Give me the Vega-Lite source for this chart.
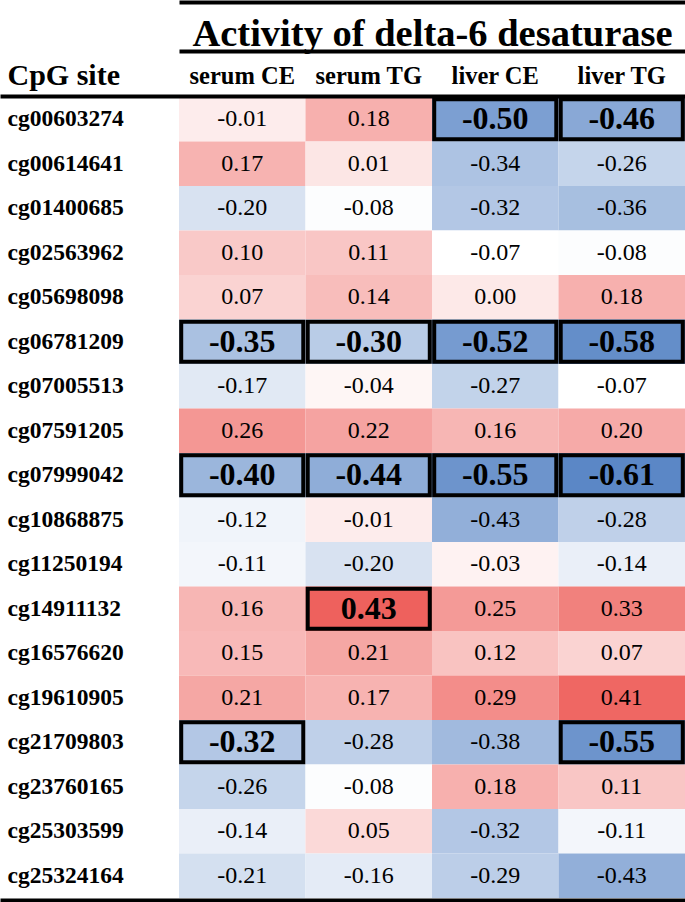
{
  "$schema": "https://vega.github.io/schema/vega-lite/v6.json",
  "width": 685,
  "height": 801,
  "autosize": "none",
  "padding": {"left": 0, "right": 0, "top": 97, "bottom": 4},
  "background": "white",
  "config": {
    "view": {"stroke": null},
    "font": "Liberation Serif",
    "locale": {"number": {"decimal": ".", "thousands": ",", "grouping": [3], "currency": ["$", ""], "minus": "-"}}
  },
  "datasets": {
    "cells": [
      {"site": "cg00603274", "m": "serum CE", "r": -0.01, "sig": false},
      {"site": "cg00603274", "m": "serum TG", "r": 0.18, "sig": false},
      {"site": "cg00603274", "m": "liver CE", "r": -0.50, "sig": true},
      {"site": "cg00603274", "m": "liver TG", "r": -0.46, "sig": true},
      {"site": "cg00614641", "m": "serum CE", "r": 0.17, "sig": false},
      {"site": "cg00614641", "m": "serum TG", "r": 0.01, "sig": false},
      {"site": "cg00614641", "m": "liver CE", "r": -0.34, "sig": false},
      {"site": "cg00614641", "m": "liver TG", "r": -0.26, "sig": false},
      {"site": "cg01400685", "m": "serum CE", "r": -0.20, "sig": false},
      {"site": "cg01400685", "m": "serum TG", "r": -0.08, "sig": false},
      {"site": "cg01400685", "m": "liver CE", "r": -0.32, "sig": false},
      {"site": "cg01400685", "m": "liver TG", "r": -0.36, "sig": false},
      {"site": "cg02563962", "m": "serum CE", "r": 0.10, "sig": false},
      {"site": "cg02563962", "m": "serum TG", "r": 0.11, "sig": false},
      {"site": "cg02563962", "m": "liver CE", "r": -0.07, "sig": false},
      {"site": "cg02563962", "m": "liver TG", "r": -0.08, "sig": false},
      {"site": "cg05698098", "m": "serum CE", "r": 0.07, "sig": false},
      {"site": "cg05698098", "m": "serum TG", "r": 0.14, "sig": false},
      {"site": "cg05698098", "m": "liver CE", "r": 0.00, "sig": false},
      {"site": "cg05698098", "m": "liver TG", "r": 0.18, "sig": false},
      {"site": "cg06781209", "m": "serum CE", "r": -0.35, "sig": true},
      {"site": "cg06781209", "m": "serum TG", "r": -0.30, "sig": true},
      {"site": "cg06781209", "m": "liver CE", "r": -0.52, "sig": true},
      {"site": "cg06781209", "m": "liver TG", "r": -0.58, "sig": true},
      {"site": "cg07005513", "m": "serum CE", "r": -0.17, "sig": false},
      {"site": "cg07005513", "m": "serum TG", "r": -0.04, "sig": false},
      {"site": "cg07005513", "m": "liver CE", "r": -0.27, "sig": false},
      {"site": "cg07005513", "m": "liver TG", "r": -0.07, "sig": false},
      {"site": "cg07591205", "m": "serum CE", "r": 0.26, "sig": false},
      {"site": "cg07591205", "m": "serum TG", "r": 0.22, "sig": false},
      {"site": "cg07591205", "m": "liver CE", "r": 0.16, "sig": false},
      {"site": "cg07591205", "m": "liver TG", "r": 0.20, "sig": false},
      {"site": "cg07999042", "m": "serum CE", "r": -0.40, "sig": true},
      {"site": "cg07999042", "m": "serum TG", "r": -0.44, "sig": true},
      {"site": "cg07999042", "m": "liver CE", "r": -0.55, "sig": true},
      {"site": "cg07999042", "m": "liver TG", "r": -0.61, "sig": true},
      {"site": "cg10868875", "m": "serum CE", "r": -0.12, "sig": false},
      {"site": "cg10868875", "m": "serum TG", "r": -0.01, "sig": false},
      {"site": "cg10868875", "m": "liver CE", "r": -0.43, "sig": false},
      {"site": "cg10868875", "m": "liver TG", "r": -0.28, "sig": false},
      {"site": "cg11250194", "m": "serum CE", "r": -0.11, "sig": false},
      {"site": "cg11250194", "m": "serum TG", "r": -0.20, "sig": false},
      {"site": "cg11250194", "m": "liver CE", "r": -0.03, "sig": false},
      {"site": "cg11250194", "m": "liver TG", "r": -0.14, "sig": false},
      {"site": "cg14911132", "m": "serum CE", "r": 0.16, "sig": false},
      {"site": "cg14911132", "m": "serum TG", "r": 0.43, "sig": true},
      {"site": "cg14911132", "m": "liver CE", "r": 0.25, "sig": false},
      {"site": "cg14911132", "m": "liver TG", "r": 0.33, "sig": false},
      {"site": "cg16576620", "m": "serum CE", "r": 0.15, "sig": false},
      {"site": "cg16576620", "m": "serum TG", "r": 0.21, "sig": false},
      {"site": "cg16576620", "m": "liver CE", "r": 0.12, "sig": false},
      {"site": "cg16576620", "m": "liver TG", "r": 0.07, "sig": false},
      {"site": "cg19610905", "m": "serum CE", "r": 0.21, "sig": false},
      {"site": "cg19610905", "m": "serum TG", "r": 0.17, "sig": false},
      {"site": "cg19610905", "m": "liver CE", "r": 0.29, "sig": false},
      {"site": "cg19610905", "m": "liver TG", "r": 0.41, "sig": false},
      {"site": "cg21709803", "m": "serum CE", "r": -0.32, "sig": true},
      {"site": "cg21709803", "m": "serum TG", "r": -0.28, "sig": false},
      {"site": "cg21709803", "m": "liver CE", "r": -0.38, "sig": false},
      {"site": "cg21709803", "m": "liver TG", "r": -0.55, "sig": true},
      {"site": "cg23760165", "m": "serum CE", "r": -0.26, "sig": false},
      {"site": "cg23760165", "m": "serum TG", "r": -0.08, "sig": false},
      {"site": "cg23760165", "m": "liver CE", "r": 0.18, "sig": false},
      {"site": "cg23760165", "m": "liver TG", "r": 0.11, "sig": false},
      {"site": "cg25303599", "m": "serum CE", "r": -0.14, "sig": false},
      {"site": "cg25303599", "m": "serum TG", "r": 0.05, "sig": false},
      {"site": "cg25303599", "m": "liver CE", "r": -0.32, "sig": false},
      {"site": "cg25303599", "m": "liver TG", "r": -0.11, "sig": false},
      {"site": "cg25324164", "m": "serum CE", "r": -0.21, "sig": false},
      {"site": "cg25324164", "m": "serum TG", "r": -0.16, "sig": false},
      {"site": "cg25324164", "m": "liver CE", "r": -0.29, "sig": false},
      {"site": "cg25324164", "m": "liver TG", "r": -0.43, "sig": false}
    ]
  },
  "data": {"name": "cells"},
  "encoding": {
    "y": {
      "field": "site", "type": "nominal", "sort": null,
      "scale": {"paddingInner": 0, "paddingOuter": 0},
      "axis": {
        "orient": "left", "offset": -7, "domain": false, "ticks": false, "tickSize": 0,
        "labelAlign": "left", "labelPadding": 0, "labelFont": "Liberation Serif",
        "labelFontWeight": "bold", "labelFontSize": 23.5, "labelColor": "black",
        "title": "CpG site", "titleAngle": 0, "titleAlign": "left", "titleBaseline": "alphabetic",
        "titleX": 0, "titleY": -13, "titleFont": "Liberation Serif", "titleFontSize": 30,
        "titleFontWeight": "bold", "titleColor": "black"
      }
    }
  },
  "resolve": {"axis": {"x": "independent"}},
  "layer": [
    {
      "mark": {"type": "rect"},
      "encoding": {
        "x": {
          "field": "m", "type": "nominal", "sort": ["serum CE", "serum TG", "liver CE", "liver TG"],
          "scale": {"paddingInner": 0, "paddingOuter": 0.7075, "align": 1},
          "axis": {
            "orient": "top", "offset": 1, "domainWidth": 4, "domainColor": "black",
            "ticks": false, "tickSize": 0, "labelAngle": 0, "labelBaseline": "alphabetic",
            "labelPadding": 13, "labelFont": "Liberation Serif", "labelFontWeight": "bold",
            "labelFontSize": 24.5, "labelColor": "black", "title": null
          }
        },
        "color": {
          "field": "r", "type": "quantitative",
          "scale": {"domain": [-0.61, -0.07, 0.43], "range": ["#5b87c6", "#ffffff", "#ee615d"], "interpolate": "rgb"},
          "legend": null
        }
      }
    },
    {
      "transform": [{"filter": "datum.sig"}],
      "mark": {"type": "rect", "fill": null, "fillOpacity": 0, "stroke": "black", "strokeWidth": 4,
               "width": {"band": 0.965}, "height": {"band": 0.9}},
      "encoding": {
        "x": {
          "field": "m", "type": "nominal", "sort": ["serum CE", "serum TG", "liver CE", "liver TG"],
          "scale": {"paddingInner": 0, "paddingOuter": 0.7075, "align": 1},
          "axis": {
            "orient": "top", "offset": 46, "domainWidth": 4, "domainColor": "black",
            "domainDash": [0, 179, 506, 0], "labels": false, "ticks": false, "tickSize": 0,
            "title": "Activity of delta-6 desaturase", "titleX": 432, "titleY": -6,
            "titleAlign": "center", "titleBaseline": "alphabetic", "titleFont": "Liberation Serif",
            "titleFontSize": 38.5, "titleFontWeight": "bold", "titleColor": "black"
          }
        }
      }
    },
    {
      "transform": [{"filter": "!datum.sig"}],
      "mark": {"type": "text", "font": "Liberation Serif", "fontSize": 24, "baseline": "middle", "color": "black"},
      "encoding": {
        "x": {
          "field": "m", "type": "nominal", "sort": ["serum CE", "serum TG", "liver CE", "liver TG"],
          "scale": {"paddingInner": 0, "paddingOuter": 0.7075, "align": 1},
          "axis": {
            "orient": "top", "offset": 95, "domainWidth": 4, "domainColor": "black",
            "domainDash": [0, 179, 506, 0], "labels": false, "ticks": false, "tickSize": 0, "title": null
          }
        },
        "text": {"field": "r", "type": "quantitative", "format": ".2f"}
      }
    },
    {
      "transform": [{"filter": "datum.sig"}],
      "mark": {"type": "text", "font": "Liberation Serif", "fontSize": 32, "fontWeight": "bold", "baseline": "middle", "color": "black"},
      "encoding": {
        "x": {
          "field": "m", "type": "nominal", "sort": ["serum CE", "serum TG", "liver CE", "liver TG"],
          "scale": {"paddingInner": 0, "paddingOuter": 0.7075, "align": 1},
          "axis": {
            "orient": "bottom", "offset": 2, "domainWidth": 4, "domainColor": "black",
            "labels": false, "ticks": false, "tickSize": 0, "title": null
          }
        },
        "text": {"field": "r", "type": "quantitative", "format": ".2f"}
      }
    }
  ]
}
